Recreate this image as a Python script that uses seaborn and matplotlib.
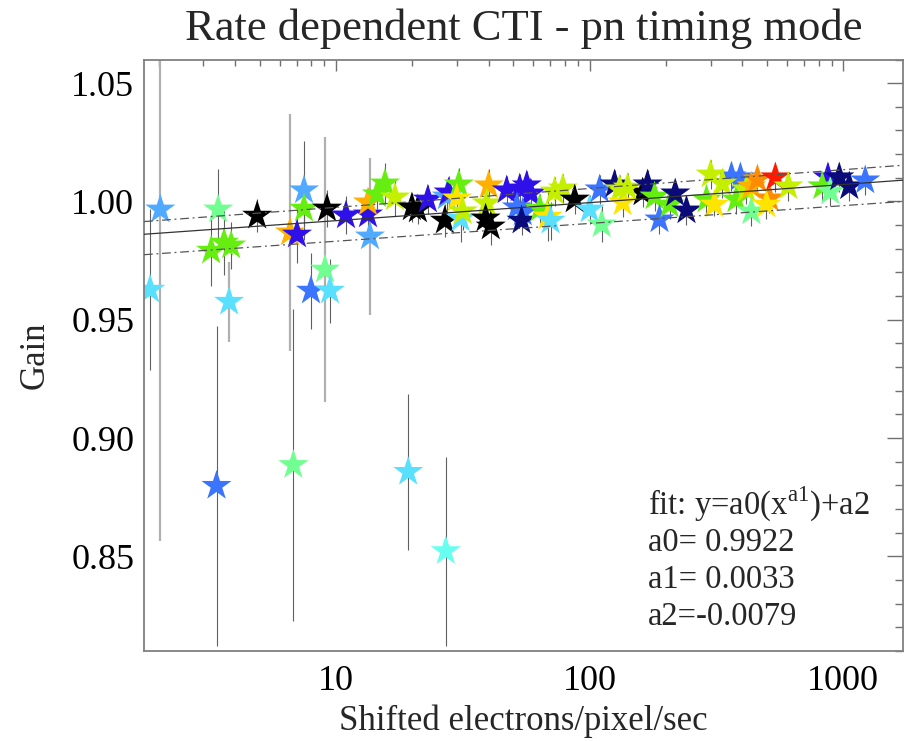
import numpy as np
import matplotlib
matplotlib.use("Agg")
import matplotlib.pyplot as plt
import seaborn as sns
from matplotlib.ticker import FixedLocator, MultipleLocator, LogLocator, NullFormatter, FormatStrFormatter

# ---------------- data ----------------
rate = [2.03, 1.85, 3.43, 3.22, 3.62, 3.86, 3.79, 3.38, 4.89, 6.59,
        7.02, 7.48, 7.48, 7.97, 9.05, 9.47, 9.22, 6.79, 10.95, 13.37,
        13.37, 13.61, 14.5, 15.6, 17.08, 19.26, 19.92, 21.03, 23.03, 27.1,
        26.87, 27.35, 27.8, 30.5, 29.95, 31.0, 31.6, 40.0, 39.3, 38.9,
        40.75, 47.1, 53.0, 56.5, 58.6, 51.7, 54.5, 53.9, 63.6, 68.3,
        70.2, 72.8, 78.4, 87.3, 100.0, 109.5, 111.5, 125.4, 131.3, 134.9,
        161.7, 141.2, 169.2, 180.3, 188.5, 206.5, 217.5, 240.9, 362.4, 393.0,
        288.9, 299.9, 310.6, 333.9, 379.0, 415.0, 434.3, 434.3, 458.7, 511.5,
        497.8, 539.9, 607.5, 870.0, 826.8, 888.9, 964.5, 1056.0, 1221.0]
gain = [0.9966, 0.9627, 0.9966, 0.9792, 0.9826, 0.9814, 0.9576, 0.8798, 0.9940, 0.9869,
        0.9860, 1.0047, 0.9970, 0.9623, 0.9712, 0.9623, 0.9970, 0.8886, 0.9941, 0.9945,
        0.9996, 0.9852, 1.0030, 1.0076, 1.0017, 0.8857, 0.9975, 0.9966, 1.0008, 0.8522,
        0.9919, 1.0021, 1.0038, 1.0072, 1.0013, 0.9928, 0.9958, 1.0068, 0.9992, 0.9928,
        0.9894, 1.0047, 1.0055, 1.0068, 1.0034, 0.9975, 0.9953, 0.9919, 0.9970, 0.9936,
        0.9919, 1.0042, 1.0055, 1.0008, 0.9966, 1.0051, 0.9903, 1.0072, 1.0051, 0.9996,
        1.0038, 1.0059, 1.0072, 1.0021, 0.9924, 0.9987, 1.0034, 0.9962, 1.0106, 1.0102,
        1.0008, 1.0114, 0.9987, 1.0076, 1.0008, 1.0051, 0.9958, 1.0064, 1.0093, 1.0013,
        0.9987, 1.0102, 1.0064, 1.0102, 1.0064, 1.0042, 1.0102, 1.0064, 1.0089]
gain_err = [0.140, 0.034, 0.017, 0.015, 0.0135, 0.010, 0.017, 0.0675, 0.007, 0.050,
            0.012, 0.021, 0.008, 0.016, 0.056, 0.0135, 0.008, 0.066, 0.008, 0.008,
            0.006, 0.033, 0.006, 0.0085, 0.008, 0.033, 0.006, 0.006, 0.006, 0.040,
            0.007, 0.007, 0.007, 0.007, 0.007, 0.010, 0.008, 0.007, 0.007, 0.007,
            0.008, 0.006, 0.006, 0.006, 0.006, 0.006, 0.006, 0.006, 0.006, 0.0105,
            0.008, 0.006, 0.006, 0.006, 0.006, 0.006, 0.0076, 0.006, 0.006, 0.006,
            0.006, 0.006, 0.006, 0.006, 0.006, 0.006, 0.006, 0.006, 0.006, 0.006,
            0.006, 0.006, 0.005, 0.006, 0.006, 0.006, 0.006, 0.006, 0.006, 0.006,
            0.006, 0.006, 0.006, 0.006, 0.006, 0.006, 0.006, 0.006, 0.006]
colour_key = ["L", "C", "A", "G", "G", "G", "C", "M", "K", "O",
              "B", "L", "G", "M", "A", "C", "K", "A", "B", "B",
              "O", "L", "G", "G", "Y", "C", "K", "K", "B", "T",
              "K", "L", "B", "G", "W", "C", "Y", "O", "Y", "K",
              "K", "B", "B", "B", "B", "M", "M", "N", "G", "W",
              "C", "Y", "Y", "K", "C", "M", "A", "N", "Y", "W",
              "K", "Y", "N", "G", "M", "G", "N", "N", "M", "M",
              "G", "Y", "W", "Y", "G", "Y", "A", "O", "D", "D",
              "W", "R", "Y", "B", "G", "A", "N", "N", "M"]
err_shade = ["l", "d", "d", "d", "d", "d", "l", "d", "d", "l",
             "d", "d", "d", "d", "l", "d", "d", "d", "d", "d",
             "d", "l", "d", "d", "d", "d", "d", "d", "d", "d"] + ["d"] * 59

palette = {"K": "#000000", "N": "#0a0a78", "B": "#3010e8", "M": "#3a74ff",
           "L": "#50aaff", "C": "#5ae0ff", "T": "#66fff0", "A": "#70ff90",
           "G": "#66ee10", "Y": "#c4f000", "W": "#ffe400", "O": "#ffb000",
           "D": "#ff8c00", "R": "#ff1a00"}

# fit parameters (from annotation) and confidence band end values
a0, a1, a2 = 0.9922, 0.0033, -0.0079
x_range = [1.75, 1720.0]
upper_band = [0.9915, 1.0153]
lower_band = [0.9775, 1.0000]
y_range = [0.81, 1.06]

title = "Rate dependent CTI - pn timing mode"
xlabel = "Shifted electrons/pixel/sec"
ylabel = "Gain"
x_ticks = [10, 100, 1000]
x_ticklabels = ["10", "100", "1000"]
y_ticks = [0.85, 0.90, 0.95, 1.00, 1.05]

# ---------------- plot ----------------
sns.set_style("white")
plt.rcParams["font.family"] = ["Liberation Serif", "DejaVu Serif"]
plt.rcParams["mathtext.fontset"] = "custom"
plt.rcParams["mathtext.rm"] = "Liberation Serif"

fig = plt.figure(figsize=(9.05, 7.41), dpi=100)
ax = fig.add_axes([144 / 905, 1 - 651 / 741, 759 / 905, 591.5 / 741])

rate_a = np.array(rate)
gain_a = np.array(gain)
err_a = np.array(gain_err)
shade_a = np.array(err_shade)

for sh, col, lw in (("l", "#b0b0b0", 1.6), ("d", "#606060", 0.8)):
    m = shade_a == sh
    ax.errorbar(rate_a[m], gain_a[m], yerr=err_a[m], fmt="none",
                ecolor=col, elinewidth=lw, capsize=0, zorder=1)

sns.scatterplot(x=rate, y=gain, hue=colour_key, palette=palette, marker="*",
                s=520, linewidth=0, legend=False, ax=ax, zorder=2)

xf = np.geomspace(x_range[0], x_range[1], 200)
ax.plot(xf, a0 * xf ** a1 + a2, color="#333333", lw=0.9, zorder=3)
ax.plot(x_range, upper_band, color="#555555", lw=0.9, ls=(0, (7, 3, 1.5, 3)), zorder=3)
ax.plot(x_range, lower_band, color="#555555", lw=0.9, ls=(0, (7, 3, 1.5, 3)), zorder=3)

ax.set_xscale("log")
ax.set_xlim(*x_range)
ax.set_ylim(*y_range)
ax.xaxis.set_major_locator(FixedLocator(x_ticks))
ax.set_xticklabels(x_ticklabels)
ax.xaxis.set_minor_locator(LogLocator(base=10, subs=np.arange(2, 10)))
ax.xaxis.set_minor_formatter(NullFormatter())
ax.yaxis.set_major_locator(FixedLocator(y_ticks))
ax.yaxis.set_major_formatter(FormatStrFormatter("%.2f"))
ax.yaxis.set_minor_locator(MultipleLocator(0.01))

ax.tick_params(axis="both", which="both", direction="in", top=True, right=True,
               colors="#707070", labelcolor="black", labelsize=26)
ax.tick_params(axis="y", which="major", length=11.5, width=1.0, pad=7)
ax.tick_params(axis="y", which="minor", length=5.8, width=1.0)
ax.tick_params(axis="x", which="major", length=7.7, width=1.0, pad=10)
ax.tick_params(axis="x", which="minor", length=4.1, width=1.0)
for sp in ax.spines.values():
    sp.set_color("#808080")
    sp.set_linewidth(1.3)

ax.set_title(title, fontsize=32, pad=14)
ax.set_xlabel(xlabel, fontsize=25)
ax.xaxis.set_label_coords(0.5, -0.119)
ax.xaxis.label.set_va("center")
ax.set_ylabel(ylabel, fontsize=25, labelpad=14)

ann = [r"fit: y=a0(x$^{\rm a1}$)+a2", "a0= 0.9922", "a1= 0.0033", "a2=-0.0079"]
ann_y = [0.247, 0.1826, 0.120, 0.0575]
for t, yy in zip(ann, ann_y):
    ax.text(0.664, yy, t, transform=ax.transAxes, fontsize=23.5, va="center", ha="left")

fig.savefig("out.png", dpi=100)
